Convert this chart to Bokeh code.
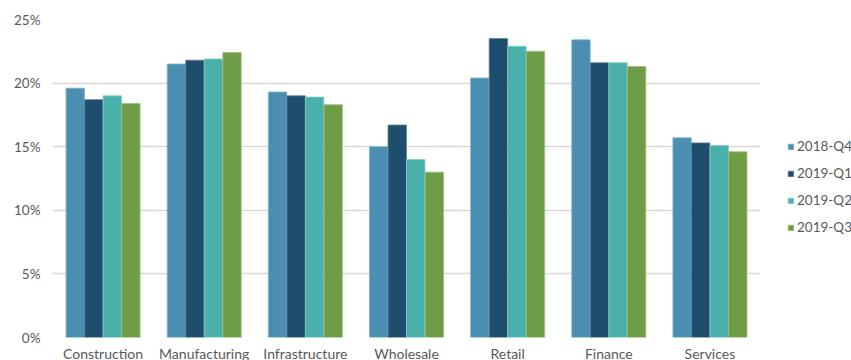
from bokeh.plotting import figure
from bokeh.models import (ColumnDataSource, FactorRange, FixedTicker, PrintfTickFormatter,
                          Legend, LegendItem, Range1d)
from bokeh.transform import dodge
from bokeh.embed import file_html
from bokeh.resources import INLINE

# Sector shares by quarter (percent)
sectors = ["Construction", "Manufacturing", "Infrastructure", "Wholesale", "Retail", "Finance", "Services"]
quarters = ["2018-Q4", "2019-Q1", "2019-Q2", "2019-Q3"]
q2018_4 = [19.6, 21.5, 19.3, 15.0, 20.4, 23.4, 15.7]
q2019_1 = [18.7, 21.8, 19.0, 16.7, 23.5, 21.6, 15.3]
q2019_2 = [19.0, 21.9, 18.9, 14.0, 22.9, 21.6, 15.1]
q2019_3 = [18.4, 22.4, 18.3, 13.0, 22.5, 21.3, 14.6]
y_ticks = [0, 5, 10, 15, 20, 25]

colors = ["#4a8fb1", "#1e4d6d", "#4ab0aa", "#6f9c47"]
edges = ["#7fb3cb", "#5a7f98", "#86cdc7", "#9cbf7c"]

source = ColumnDataSource(data=dict(sector=sectors, s0=q2018_4, s1=q2019_1, s2=q2019_2, s3=q2019_3))

p = figure(x_range=FactorRange(*sectors, range_padding=0), y_range=Range1d(0, 25),
           frame_width=708, frame_height=318,
           min_border_left=52, min_border_right=91, min_border_top=19, min_border_bottom=0,
           output_backend="svg", toolbar_location=None)

bar_w = 0.182
offsets = [-0.275, -0.0915, 0.0915, 0.275]
renderers = []
for i in range(4):
    r = p.vbar(x=dodge("sector", offsets[i], range=p.x_range), top="s%d" % i, width=bar_w,
               source=source, fill_color=colors[i], line_color=edges[i], line_width=0.8)
    renderers.append(r)

legend = Legend(items=[LegendItem(label=quarters[i], renderers=[renderers[i]]) for i in range(4)],
                location=(27, 100), orientation="vertical",
                glyph_width=7, glyph_height=7, label_height=20, spacing=7,
                label_standoff=3, padding=0, margin=0,
                border_line_alpha=0, background_fill_alpha=0,
                label_text_font="Lato", label_text_font_size="13.5px", label_text_color="#595959")
p.add_layout(legend, "right")

p.outline_line_color = None
p.background_fill_color = "white"
p.border_fill_color = "white"

p.xgrid.grid_line_color = None
p.ygrid.grid_line_color = "#d9d9d9"
p.ygrid.grid_line_width = 1.6
p.yaxis.ticker = FixedTicker(ticks=y_ticks)
p.yaxis.formatter = PrintfTickFormatter(format="%d%%")

for ax in (p.xaxis, p.yaxis):
    ax.axis_line_color = None
    ax.major_tick_line_color = None
    ax.minor_tick_line_color = None
    ax.major_tick_in = 0
    ax.major_tick_out = 0
    ax.major_label_text_font = "Lato"
    ax.major_label_text_color = "#595959"

p.xaxis.major_label_text_font_size = "14px"
p.yaxis.major_label_text_font_size = "13.5px"
p.yaxis.major_label_standoff = 12
p.xaxis.major_label_standoff = 7

open("out.html", "w").write(file_html(p, INLINE))
